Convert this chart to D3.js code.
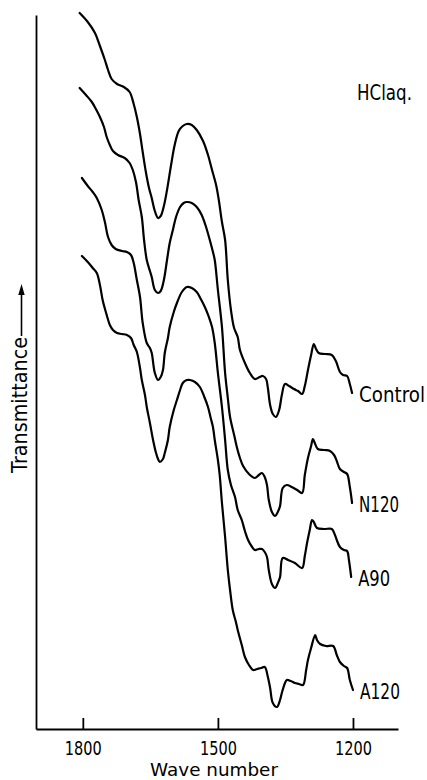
<!DOCTYPE html>
<html>
<head>
<meta charset="utf-8">
<script src="https://cdn.jsdelivr.net/npm/d3@7"></script>
<style>
  body { margin: 0; background: #fff; }
  text { font-family: "DejaVu Sans", sans-serif; fill: #000; }
</style>
</head>
<body>
<svg id="chart" width="427" height="780"></svg>
<script>
// tick labels of the wave number axis
var waveTicks = [1800, 1500, 1200];
var seriesNames = ["Control", "N120", "A90", "A120"];

// [wave number, transmittance (arbitrary, offset per curve)]
var control = [[1807,71.6],[1789,70.7],[1773,69.6],[1762,68.3],[1751,66.9],[1744,65.9],[1736,65.0],[1724,64.5],[1709,64.2],[1696,63.7],[1687,62.5],[1680,61.2],[1673,59.5],[1667,57.7],[1660,55.7],[1653,54.1],[1647,53.1],[1640,51.8],[1633,51.1],[1627,51.3],[1620,52.3],[1613,53.9],[1604,56.4],[1596,58.4],[1587,59.8],[1578,60.3],[1569,60.5],[1558,60.4],[1547,59.9],[1533,58.8],[1522,57.4],[1513,55.9],[1504,54.4],[1498,52.9],[1491,50.7],[1484,48.9],[1478,44.9],[1471,41.9],[1464,40.1],[1456,39.2],[1451,37.9],[1440,36.6],[1429,35.6],[1418,35.0],[1407,35.2],[1400,35.3],[1393,35.0],[1389,34.1],[1384,32.4],[1378,31.5],[1371,31.2],[1364,31.9],[1358,33.4],[1351,34.5],[1342,34.3],[1331,34.0],[1322,33.8],[1313,33.5],[1307,34.3],[1300,35.9],[1293,37.4],[1287,38.5],[1282,38.0],[1276,37.6],[1262,37.5],[1247,37.4],[1238,36.8],[1229,35.7],[1222,35.4],[1213,35.3],[1207,34.5],[1202,33.6]];

var n120 = [[1807,64.1],[1793,63.4],[1780,62.7],[1771,62.0],[1762,61.2],[1753,60.2],[1747,59.2],[1740,58.4],[1733,57.8],[1722,57.4],[1707,57.1],[1696,56.6],[1689,55.9],[1682,54.7],[1676,52.9],[1669,51.2],[1664,48.9],[1658,46.9],[1651,45.8],[1647,45.2],[1640,43.9],[1633,43.6],[1627,43.8],[1620,44.9],[1613,46.9],[1607,48.6],[1600,49.9],[1593,51.2],[1584,52.2],[1576,52.6],[1569,52.7],[1558,52.6],[1547,52.2],[1536,51.4],[1527,50.3],[1518,48.9],[1511,47.7],[1507,46.9],[1500,43.9],[1491,40.2],[1484,35.6],[1478,33.1],[1473,31.2],[1464,29.4],[1458,28.2],[1451,27.1],[1444,26.3],[1431,25.5],[1418,25.1],[1409,25.4],[1402,25.6],[1396,25.2],[1391,24.4],[1387,22.9],[1380,21.7],[1373,21.3],[1367,21.7],[1362,22.3],[1356,24.1],[1347,24.4],[1336,24.2],[1324,23.9],[1313,23.6],[1307,25.4],[1300,27.1],[1293,28.3],[1289,29.0],[1284,28.5],[1278,28.0],[1264,27.9],[1251,27.8],[1242,27.4],[1236,26.8],[1229,26.0],[1220,25.7],[1213,25.5],[1207,24.2],[1202,22.6]];

var a90 = [[1802,55.1],[1789,54.3],[1778,53.7],[1769,53.1],[1758,51.9],[1751,50.7],[1744,49.2],[1736,48.4],[1727,48.0],[1713,47.8],[1702,47.7],[1693,47.4],[1687,46.6],[1680,44.9],[1673,43.2],[1667,40.6],[1658,38.6],[1651,38.1],[1647,37.6],[1640,35.6],[1633,34.9],[1627,35.2],[1622,35.9],[1618,37.6],[1611,39.1],[1607,40.2],[1598,41.7],[1591,42.6],[1580,43.7],[1569,44.2],[1558,44.1],[1547,43.7],[1538,43.0],[1529,42.2],[1520,41.2],[1513,40.2],[1507,38.6],[1500,35.6],[1491,32.2],[1484,28.9],[1478,25.9],[1471,24.4],[1462,23.2],[1456,21.9],[1447,20.9],[1440,19.8],[1433,18.9],[1424,18.2],[1418,17.9],[1409,18.0],[1402,18.0],[1396,17.7],[1391,17.2],[1387,15.9],[1380,14.5],[1373,14.1],[1367,14.6],[1362,15.2],[1356,17.1],[1344,16.9],[1329,16.6],[1313,16.1],[1307,17.3],[1302,18.6],[1296,19.9],[1291,20.9],[1287,20.7],[1280,20.1],[1264,20.0],[1247,20.0],[1240,19.4],[1236,18.9],[1229,18.2],[1220,17.9],[1213,17.8],[1209,16.9],[1204,15.2]];

var a120 = [[1802,47.3],[1789,46.7],[1778,46.1],[1769,45.6],[1762,44.4],[1756,42.9],[1747,41.4],[1740,40.4],[1733,39.9],[1724,39.6],[1713,39.5],[1702,39.4],[1693,39.1],[1687,38.4],[1680,37.7],[1673,36.1],[1669,34.9],[1662,33.4],[1658,32.2],[1651,30.6],[1644,28.9],[1638,27.7],[1633,27.0],[1629,26.7],[1622,27.0],[1618,27.6],[1611,28.9],[1607,30.2],[1598,31.9],[1591,32.9],[1584,33.9],[1578,34.6],[1569,34.9],[1562,34.9],[1551,34.7],[1540,34.2],[1531,33.3],[1522,32.2],[1516,31.1],[1511,30.2],[1507,28.9],[1500,26.9],[1496,25.4],[1491,22.6],[1484,19.2],[1478,15.9],[1473,13.9],[1467,11.9],[1460,10.7],[1456,9.9],[1447,8.4],[1440,7.2],[1431,6.4],[1422,5.9],[1413,6.0],[1404,6.1],[1396,6.2],[1389,5.2],[1384,4.1],[1378,2.6],[1369,2.2],[1362,2.9],[1358,3.6],[1351,4.6],[1347,4.9],[1338,4.8],[1329,4.6],[1320,4.5],[1311,4.4],[1304,5.9],[1300,6.9],[1293,8.1],[1284,9.4],[1280,8.9],[1273,8.5],[1260,8.3],[1244,8.3],[1236,7.4],[1229,6.7],[1220,6.3],[1213,6.1],[1207,4.9],[1200,3.9]];

var allSeries = [control, n120, a90, a120];

var svg = d3.select("#chart");

// wave number runs right to left
var x = d3.scaleLinear().domain([1904, 1100]).range([36, 398]);
var y = d3.scaleLinear().domain([0, 71.4]).range([729, 15]);

var line = d3.line()
    .x(d => x(d[0]))
    .y(d => y(d[1]))
    .curve(d3.curveCatmullRom.alpha(0.5));

// the lettering of the figure is narrow, so squeeze text horizontally
function squeeze(node, width){
    return width / node.getComputedTextLength();
}

// spectra
svg.selectAll(".spectrum")
    .data(allSeries)
    .enter()
    .append("path")
    .classed("spectrum", true)
    .attr("d", line)
    .attr("fill", "none")
    .attr("stroke", "#000")
    .attr("stroke-width", 2.2)
    .attr("stroke-linejoin", "round")
    .attr("stroke-linecap", "round");

// curve names next to the right end of each curve
var labelWidth = {"Control": 66, "N120": 40, "A90": 32, "A120": 40};
svg.selectAll(".series-label")
    .data(allSeries)
    .enter()
    .append("text")
    .classed("series-label", true)
    .attr("font-size", 21)
    .text((d, i) => seriesNames[i])
    .each(function(d, i){
        var last = d[d.length - 1];
        var s = squeeze(this, labelWidth[seriesNames[i]]);
        d3.select(this).attr("transform",
            "translate(" + (x(last[0]) + 7) + "," + (y(last[1]) + 9) + ") scale(" + s + ",1)");
    });

// x axis, ticks point inward
var xAxis = d3.axisBottom(x)
    .tickValues(waveTicks)
    .tickSize(-11)
    .tickSizeOuter(0)
    .tickPadding(13)
    .tickFormat(d3.format("d"));

var gx = svg.append("g")
    .attr("transform", "translate(0,729)")
    .call(xAxis);
gx.select(".domain").attr("stroke-width", 1.8);
gx.selectAll(".tick line").attr("stroke-width", 1.8);
gx.selectAll(".tick text")
    .attr("font-family", "DejaVu Sans, sans-serif")
    .attr("font-size", 19)
    .attr("fill", "#000")
    .each(function(){
        d3.select(this).attr("transform", "scale(" + squeeze(this, 37) + ",1)");
    });

// y axis: plain line
var gy = svg.append("g")
    .attr("transform", "translate(36,0)")
    .call(d3.axisLeft(y).tickValues([]).tickSizeOuter(0));
gy.select(".domain").attr("stroke-width", 1.8);

var xTitle = svg.append("text")
    .attr("text-anchor", "middle")
    .attr("font-size", 18)
    .text("Wave number");
xTitle.attr("transform", "translate(214,776) scale(" + squeeze(xTitle.node(), 128) + ",1)");

// y label with arrow
var yTitle = svg.append("text")
    .attr("font-size", 21)
    .text("Transmittance");
yTitle.attr("transform", "translate(27,473) rotate(-90) scale(" + squeeze(yTitle.node(), 136) + ",1)");

svg.append("line")
    .attr("x1", 21.5).attr("y1", 336)
    .attr("x2", 21.5).attr("y2", 292)
    .attr("stroke", "#000")
    .attr("stroke-width", 1.6);
svg.append("path")
    .attr("d", "M21.5,284L18.3,295L24.7,295Z")
    .attr("fill", "#000");

var note = svg.append("text")
    .attr("font-size", 22)
    .text("HClaq.");
note.attr("transform", "translate(357,100) scale(" + squeeze(note.node(), 55) + ",1)");
</script>
</body>
</html>
